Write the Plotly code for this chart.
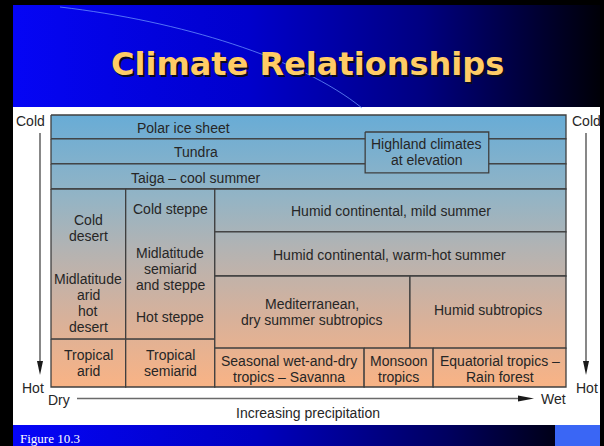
import plotly.graph_objects as go

# ---------------- data ----------------
# Climate regions: precipitation index (0 = dry .. 100 = wet), temperature index (0 = cold .. 100 = hot)
region_labels = [
    "Polar ice sheet", "Tundra", "Taiga – cool summer",
    "", "Tropical\narid",
    "", "Tropical\nsemiarid",
    "Humid continental, mild summer", "Humid continental, warm-hot summer",
    "Mediterranean,\ndry summer subtropics", "Humid subtropics",
    "Seasonal wet-and-dry\ntropics – Savanna", "Monsoon\ntropics", "Equatorial tropics –\nRain forest",
]
precip_from = [0, 0, 0, 0, 0, 14.5, 14.5, 31.8, 31.8, 31.8, 69.7, 31.8, 60.8, 74.2]
precip_to   = [100, 100, 100, 14.5, 14.5, 31.8, 31.8, 100, 100, 69.7, 100, 60.8, 74.2, 100]
temp_from   = [0, 8.8, 18.0, 27.2, 82.4, 27.2, 82.4, 27.2, 43.0, 59.2, 59.2, 85.7, 85.7, 85.7]
temp_to     = [8.8, 18.0, 27.2, 82.4, 100, 82.4, 100, 43.0, 59.2, 85.7, 85.7, 100, 100, 100]
# label anchor positions (precipitation, temperature)
label_precip = [25.8, 28.2, 28.2, None, 7.25, None, 23.15, 66.0, 65.8, 50.75, 84.85, 46.3, 67.5, 87.1]
label_temp   = [4.8, 13.6, 23.0, None, 91.2, None, 91.2, 35.3, 51.5, 72.3, 71.7, 93.3, 93.3, 93.3]

# sub-labels inside the two dry columns
extra_labels = ["Cold\ndesert", "Midlatitude\narid\nhot\ndesert", "Cold steppe",
                "Midlatitude\nsemiarid\nand steppe", "Hot steppe"]
extra_precip = [7.25, 7.25, 23.15, 23.15, 23.15]
extra_temp = [41.5, 69.2, 34.6, 56.6, 74.3]

highland_label = "Highland climates\nat elevation"
highland_precip = [61.0, 85.0]
highland_temp = [6.25, 21.3]

temp_gradient = [[0.0, "#68ACD6"], [0.3, "#93B4C5"], [0.5, "#B4B3B2"],
                 [0.75, "#D8B19A"], [1.0, "#F9B385"]]

title_text = "Climate Relationships"
footer_text = "Figure 10.3"

# ---------------- layout geometry ----------------
W, H = 604, 446
TX0, TX1, TY0, TY1 = 51, 566, 115, 387   # table in pixels
PAD = 8
sx = (TX1 - TX0) / 100.0
sy = (TY1 - TY0) / 100.0

FONT = "Liberation Sans, Arial, Helvetica, sans-serif"
TXT = "#262626"
LINE = "#3f3f3f"

fig = go.Figure()

# header gradient (pixel axes)
fig.add_trace(go.Scatter(
    x=[13, 600, 600, 13, 13], y=[5, 5, 107, 107, 5], mode="lines", fill="toself",
    line=dict(width=0), hoverinfo="skip", showlegend=False,
    fillgradient=dict(type="horizontal", start=13, stop=600,
                      colorscale=[[0, "#0505F5"], [0.4, "#0000CC"], [0.7, "#000080"], [1, "#000008"]])))
# footer gradient
fig.add_trace(go.Scatter(
    x=[13, 555, 555, 13, 13], y=[425, 425, 446, 446, 425], mode="lines", fill="toself",
    line=dict(width=0), hoverinfo="skip", showlegend=False,
    fillgradient=dict(type="horizontal", start=13, stop=555,
                      colorscale=[[0, "#0505F8"], [0.45, "#0000C0"], [0.8, "#000060"], [1, "#000018"]])))

grad = dict(type="vertical", start=0, stop=100, colorscale=temp_gradient)

# climate regions
for i in range(len(region_labels)):
    x0, x1, y0, y1 = precip_from[i], precip_to[i], temp_from[i], temp_to[i]
    fig.add_trace(go.Scatter(
        x=[x0, x1, x1, x0, x0], y=[y0, y0, y1, y1, y0], mode="lines", fill="toself",
        fillgradient=grad, line=dict(color=LINE, width=1.3),
        hoverinfo="skip", showlegend=False, xaxis="x2", yaxis="y2"))

# highland box on top
hx0, hx1 = highland_precip
hy0, hy1 = highland_temp
fig.add_trace(go.Scatter(
    x=[hx0, hx1, hx1, hx0, hx0], y=[hy0, hy0, hy1, hy1, hy0], mode="lines", fill="toself",
    fillgradient=grad, line=dict(color=LINE, width=1.3),
    hoverinfo="skip", showlegend=False, xaxis="x2", yaxis="y2"))

annotations = []

def add_label(text, x, y, xref="x2", yref="y2", size=14, color=TXT, spacing=16):
    lines = text.split("\n")
    n = len(lines)
    for k, ln in enumerate(lines):
        annotations.append(dict(
            text=ln, x=x, y=y, xref=xref, yref=yref, showarrow=False,
            xanchor="center", yanchor="middle",
            yshift=-(k - (n - 1) / 2) * spacing,
            font=dict(family=FONT, size=size, color=color)))

for i, lab in enumerate(region_labels):
    if lab:
        add_label(lab, label_precip[i], label_temp[i])
for lab, xp, tp in zip(extra_labels, extra_precip, extra_temp):
    add_label(lab, xp, tp)
add_label(highland_label, (hx0 + hx1) / 2, (hy0 + hy1) / 2)

# axis words (pixel axes)
add_label("Cold", 30, 121, xref="x", yref="y")
add_label("Hot", 33, 388, xref="x", yref="y")
add_label("Cold", 586, 121, xref="x", yref="y")
add_label("Hot", 587, 388, xref="x", yref="y")
add_label("Dry", 59, 400, xref="x", yref="y")
add_label("Wet", 553, 399, xref="x", yref="y")
add_label("Increasing precipitation", 308, 413, xref="x", yref="y")

# title with shadow
annotations.append(dict(text="<b>" + title_text + "</b>", x=309.5, y=65.5, xref="x", yref="y",
                        showarrow=False, xanchor="center", yanchor="middle",
                        font=dict(family="DejaVu Sans", size=32, color="#0a0a20")))
annotations.append(dict(text="<b>" + title_text + "</b>", x=307.5, y=63.5, xref="x", yref="y",
                        showarrow=False, xanchor="center", yanchor="middle",
                        font=dict(family="DejaVu Sans", size=32, color="#FFCC66")))
annotations.append(dict(text=footer_text, x=18, y=438, xref="x", yref="y", showarrow=False,
                        xanchor="left", yanchor="middle",
                        font=dict(family="Liberation Serif, Times New Roman, serif", size=13, color="white")))

shapes = [
    dict(type="rect", x0=13, x1=600, y0=107, y1=425, xref="x", yref="y",
         fillcolor="white", line=dict(width=0), layer="below"),
    dict(type="rect", x0=555, x1=600, y0=425, y1=446, xref="x", yref="y",
         fillcolor="#3A66F5", line=dict(width=0), layer="above"),
    dict(type="path", path="M 60 7 C 180 21, 300 58, 362 108", xref="x", yref="y",
         line=dict(color="rgba(110,150,255,0.75)", width=1), layer="above"),
    # vertical arrows
    dict(type="line", x0=40, x1=40, y0=133, y1=364, xref="x", yref="y", line=dict(color="#6a6a6a", width=1.6)),
    dict(type="path", path="M 37 361 L 43 361 L 40 375 Z", xref="x", yref="y",
         fillcolor="#1a1a1a", line=dict(width=0)),
    dict(type="line", x0=586, x1=586, y0=133, y1=364, xref="x", yref="y", line=dict(color="#6a6a6a", width=1.6)),
    dict(type="path", path="M 583 361 L 589 361 L 586 375 Z", xref="x", yref="y",
         fillcolor="#1a1a1a", line=dict(width=0)),
    # horizontal arrow
    dict(type="line", x0=77, x1=522, y0=398.5, y1=398.5, xref="x", yref="y", line=dict(color="#6a6a6a", width=1.6)),
    dict(type="path", path="M 518 395.5 L 518 401.5 L 534 398.5 Z", xref="x", yref="y",
         fillcolor="#1a1a1a", line=dict(width=0)),
]

fig.update_layout(
    width=W, height=H, margin=dict(l=0, r=0, t=0, b=0, pad=0),
    paper_bgcolor="black", plot_bgcolor="rgba(0,0,0,0)", showlegend=False,
    xaxis=dict(range=[0, W], domain=[0, 1], visible=False, fixedrange=True),
    yaxis=dict(range=[H, 0], domain=[0, 1], visible=False, fixedrange=True),
    xaxis2=dict(range=[-PAD / sx, 100 + PAD / sx],
                domain=[(TX0 - PAD) / W, (TX1 + PAD) / W], visible=False, anchor="y2"),
    yaxis2=dict(range=[100 + PAD / sy, -PAD / sy],
                domain=[(H - TY1 - PAD) / H, (H - TY0 + PAD) / H], visible=False, anchor="x2"),
    annotations=annotations, shapes=shapes,
)

fig.write_html(
    "out.html",
    config={"displayModeBar": False},
    post_script="document.body.style.margin='0';document.body.style.padding='0';"
                "document.body.style.overflow='hidden';document.body.style.background='black';",
)
